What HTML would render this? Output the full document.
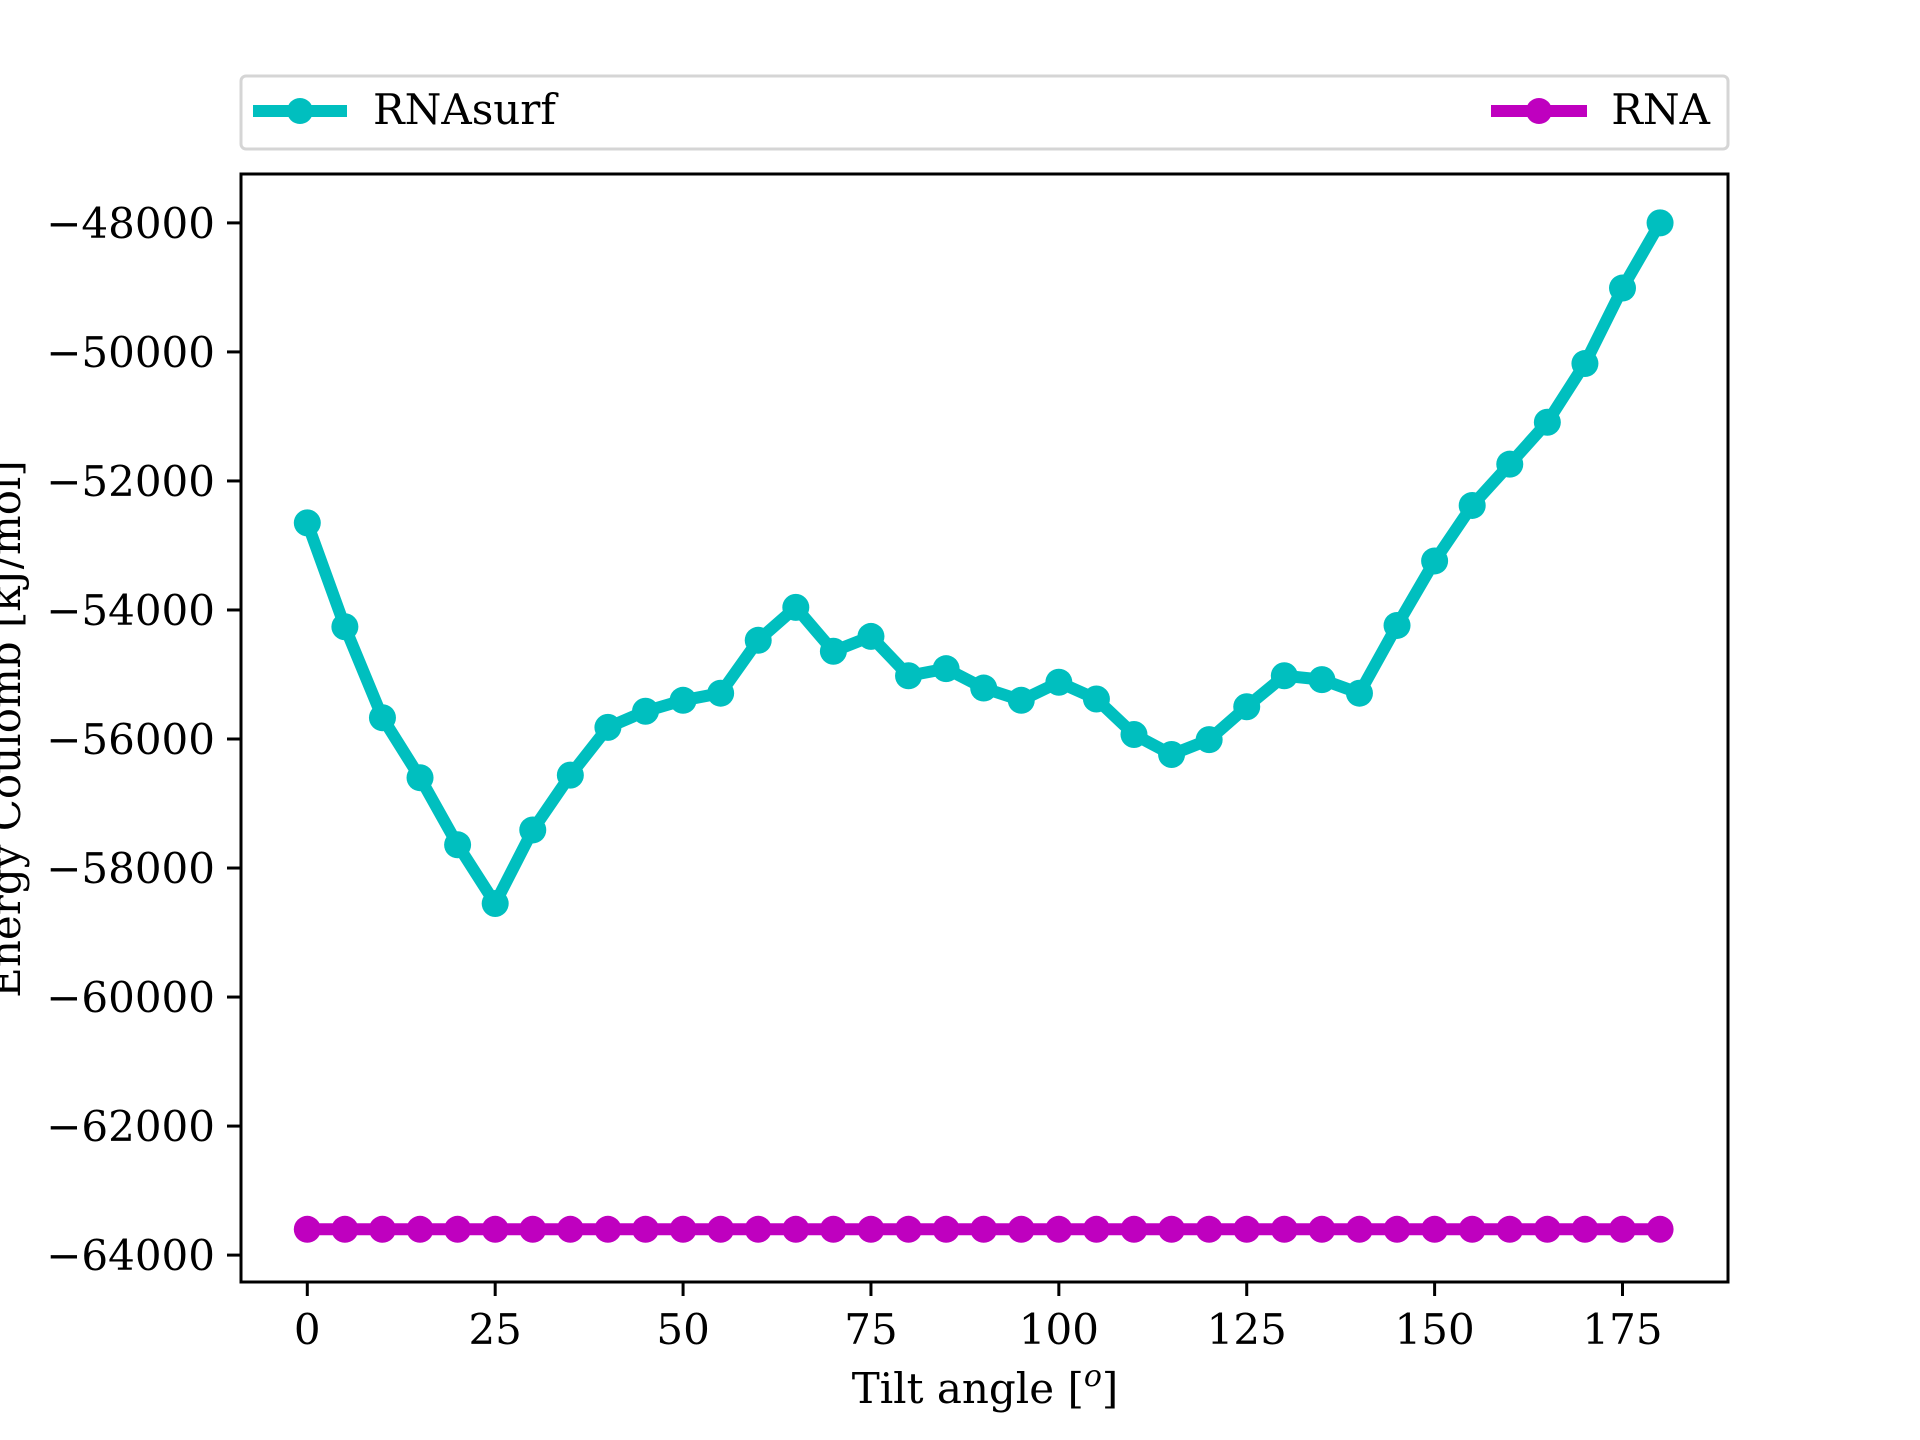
<!DOCTYPE html>
<html><head><meta charset="utf-8"><style>
html,body{margin:0;padding:0;background:#fff;}
svg{display:block;font-family:"DejaVu Serif","Liberation Serif",serif;}
</style></head><body>
<svg id="chart" width="1920" height="1440" viewBox="0 0 1920 1440" xmlns="http://www.w3.org/2000/svg">
<rect width="1920" height="1440" fill="#fff"/>
<g id="plot"></g>
<g id="axes"></g>
<g id="legend">
  <rect x="241" y="76" width="1487" height="73" rx="5" fill="#fff" stroke="#d5d5d5" stroke-width="3"/>
  <g>
    <line x1="253" y1="111" x2="347" y2="111" stroke="#00bfbf" stroke-width="12"/>
    <circle cx="300" cy="111" r="13" fill="#00bfbf"/>
    <text x="373" y="124" font-size="42">RNAsurf</text>
  </g>
  <g>
    <line x1="1491" y1="111" x2="1587" y2="111" stroke="#bf00bf" stroke-width="12"/>
    <circle cx="1539" cy="111" r="13" fill="#bf00bf"/>
    <text x="1710" y="124" font-size="42" text-anchor="end">RNA</text>
  </g>
</g>
</svg>
<script>
const angles = [0,5,10,15,20,25,30,35,40,45,50,55,60,65,70,75,80,85,90,95,100,105,110,115,120,125,130,135,140,145,150,155,160,165,170,175,180];
const rnasurf = [-52650,-54260,-55670,-56600,-57640,-58550,-57410,-56560,-55820,-55570,-55400,-55290,-54470,-53960,-54640,-54410,-55020,-54910,-55210,-55400,-55120,-55380,-55930,-56240,-56010,-55500,-55020,-55080,-55290,-54240,-53240,-52380,-51740,-51090,-50180,-49010,-48000];
const rna = [-63600,-63600,-63600,-63600,-63600,-63600,-63600,-63600,-63600,-63600,-63600,-63600,-63600,-63600,-63600,-63600,-63600,-63600,-63600,-63600,-63600,-63600,-63600,-63600,-63600,-63600,-63600,-63600,-63600,-63600,-63600,-63600,-63600,-63600,-63600,-63600,-63600];
const xTicks = [0,25,50,75,100,125,150,175];
const yTicks = [-48000,-50000,-52000,-54000,-56000,-58000,-60000,-62000,-64000];

const NS = "http://www.w3.org/2000/svg";
const L=241,R=1728,T=174,B=1282;
function xs(v){return 307.3 + v*(1622.5-307.3)/175;}
function ys(v){return 222.9 + (-48000 - v)*(1255.1-222.9)/16000;}
function mk(tag,attrs,parent){const e=document.createElementNS(NS,tag);for(const k in attrs)e.setAttribute(k,attrs[k]);parent.appendChild(e);return e;}
const plot=document.getElementById('plot'), axes=document.getElementById('axes');

function series(vals,color,name){
  const g=mk('g',{},plot);
  
  
  const pts=angles.map((a,i)=>xs(a)+','+ys(vals[i])).join(' ');
  const pl=mk('polyline',{points:pts,fill:'none',stroke:color,'stroke-width':12,'stroke-linejoin':'round'},g);
  
  
  angles.forEach((a,i)=>{
    const c=mk('circle',{cx:xs(a),cy:ys(vals[i]),r:13.5,fill:color},g);
    
    
  });
}
series(rna,'#bf00bf','rna');
series(rnasurf,'#00bfbf','rnasurf');

const frame=mk('rect',{x:L,y:T,width:R-L,height:B-T,fill:'none',stroke:'#000','stroke-width':3},axes);


xTicks.forEach(v=>{
  const x=xs(v);
  const t=mk('line',{x1:x,y1:B,x2:x,y2:B+14,stroke:'#000','stroke-width':3},axes);
  
  
  const lb=mk('text',{x:x,y:1344,'font-size':42,'text-anchor':'middle'},axes);
  lb.textContent=v;
  
  
});
yTicks.forEach(v=>{
  const y=ys(v);
  const t=mk('line',{x1:L-14,y1:y,x2:L,y2:y,stroke:'#000','stroke-width':3},axes);
  
  
  const lb=mk('text',{x:L-26,y:y+15,'font-size':42,'text-anchor':'end'},axes);
  lb.textContent='\u2212'+Math.abs(v);
  
  
});
const xl=mk('text',{x:985,y:1403,'font-size':42,'text-anchor':'middle'},axes);
xl.innerHTML='Tilt angle [<tspan font-style="italic" baseline-shift="super" font-size="30">o</tspan>]';


const yl=mk('text',{x:0,y:0,'font-size':42,'text-anchor':'middle',transform:'translate(20,729) rotate(-90)'},axes);
yl.textContent='Energy Coulomb [kJ/mol]';


</script>
</body></html>
